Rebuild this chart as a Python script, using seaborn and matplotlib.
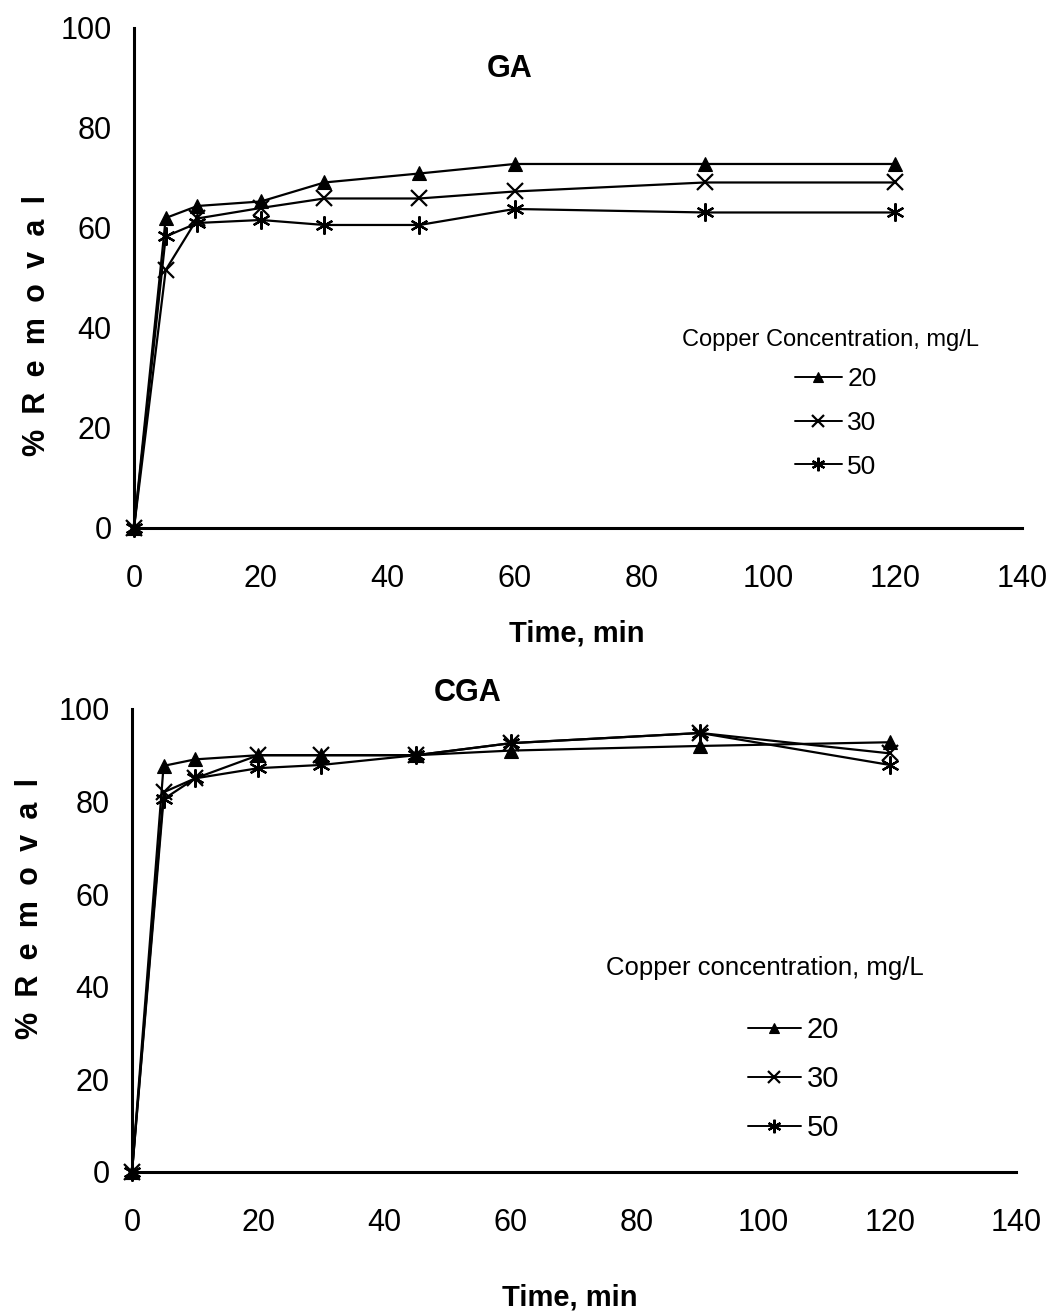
import matplotlib
matplotlib.use("Agg")
import matplotlib.pyplot as plt
import seaborn as sns
import pandas as pd

sns.set_theme(style="white")
plt.rcParams["font.family"] = ["Liberation Sans", "DejaVu Sans"]
plt.rcParams["text.color"] = "black"
plt.rcParams["axes.labelcolor"] = "black"
plt.rcParams["xtick.color"] = "black"
plt.rcParams["ytick.color"] = "black"

# Contact time, min
time_min = [0, 5, 10, 20, 30, 45, 60, 90, 120]

# % removal on GA for each initial copper concentration (mg/L)
ga_20 = [0, 62.0, 64.4, 65.3, 69.1, 70.9, 72.8, 72.8, 72.8]
ga_30 = [0, 51.6, 61.9, 64.0, 65.9, 65.9, 67.3, 69.1, 69.1]
ga_50 = [0, 58.3, 61.0, 61.6, 60.6, 60.6, 63.8, 63.1, 63.1]

# % removal on CGA
cga_20 = [0, 87.7, 89.1, 90.0, 90.0, 90.0, 91.0, 92.0, 92.8]
cga_30 = [0, 82.0, 85.0, 90.0, 90.0, 90.0, 92.6, 94.8, 90.4]
cga_50 = [0, 80.5, 85.0, 87.2, 87.9, 90.0, 92.6, 94.8, 87.9]

conc_labels = ["20", "30", "50"]
x_ticks = [0, 20, 40, 60, 80, 100, 120, 140]
y_ticks = [0, 20, 40, 60, 80, 100]

# letter-spaced axis title (en spaces between letters)
removal_label = "\u2002".join("%Removal")

marker_style = {
    "20": dict(marker="^", markersize=10, markeredgewidth=0.8),
    "30": dict(marker="x", markersize=11, markeredgewidth=1.6),
    "50": dict(marker=(6, 2, 0), markersize=13, markeredgewidth=1.6),
}

fig = plt.figure(figsize=(10.51, 13.14), dpi=100)
ax_top = fig.add_axes([0.1275, 0.5982, 0.8449, 0.3805])
ax_bot = fig.add_axes([0.1256, 0.1081, 0.8411, 0.3524])


def draw_panel(ax, series, title, title_xy, legend_title, title_pos,
               legend_anchor, leg_fs, title_fs, label_spacing, ylab_xy, xlab_xy):
    for lab, vals in zip(conc_labels, series):
        df = pd.DataFrame({"Time": time_min, "Removal": vals})
        sns.lineplot(data=df, x="Time", y="Removal", ax=ax, color="black",
                     linewidth=1.6, label=lab, clip_on=False,
                     markerfacecolor="black", markeredgecolor="black",
                     **marker_style[lab])
    ax.set_xlim(0, 140)
    ax.set_ylim(0, 100)
    ax.set_xticks(x_ticks)
    ax.set_yticks(y_ticks)
    for side in ("top", "right"):
        ax.spines[side].set_visible(False)
    for side in ("left", "bottom"):
        ax.spines[side].set_linewidth(2.2)
        ax.spines[side].set_color("black")
    ax.tick_params(axis="both", direction="out", length=8, width=2.0,
                   colors="black", labelsize=22)
    ax.tick_params(axis="x", pad=18)
    ax.tick_params(axis="y", pad=8)
    ax.set_xlabel("Time, min", fontsize=21, fontweight="bold", color="black")
    ax.set_ylabel(removal_label, fontsize=22, fontweight="bold", color="black")
    ax.yaxis.set_label_coords(*ylab_xy)
    ax.xaxis.set_label_coords(*xlab_xy)
    ax.text(title_xy[0], title_xy[1], title, fontsize=22, fontweight="bold",
            ha="center", va="center", transform=ax.transAxes, clip_on=False,
            color="black")
    ax.text(title_pos[0], title_pos[1], legend_title, fontsize=title_fs,
            ha="center", va="center", transform=ax.transAxes, color="black")
    leg = ax.legend(loc="upper left", bbox_to_anchor=legend_anchor,
                    frameon=False, fontsize=leg_fs, handlelength=1.8,
                    handletextpad=0.2, borderpad=0, borderaxespad=0,
                    labelspacing=label_spacing, markerscale=0.75)
    for txt in leg.get_texts():
        txt.set_color("black")
    for h in leg.legend_handles:
        h.set_linewidth(1.4)


draw_panel(ax_top, [ga_20, ga_30, ga_50], "GA", (0.423, 0.918),
           "Copper Concentration, mg/L", (0.784, 0.376), (0.744, 0.322),
           19, 17, 0.75, (-0.092, 0.405), (0.499, -0.184))
draw_panel(ax_bot, [cga_20, cga_30, cga_50], "CGA", (0.38, 1.035),
           "Copper concentration, mg/L", (0.716, 0.441), (0.697, 0.337),
           21, 18.5, 0.72, (-0.098, 0.57), (0.495, -0.24))

fig.savefig("out.png", dpi=100, facecolor="white")
